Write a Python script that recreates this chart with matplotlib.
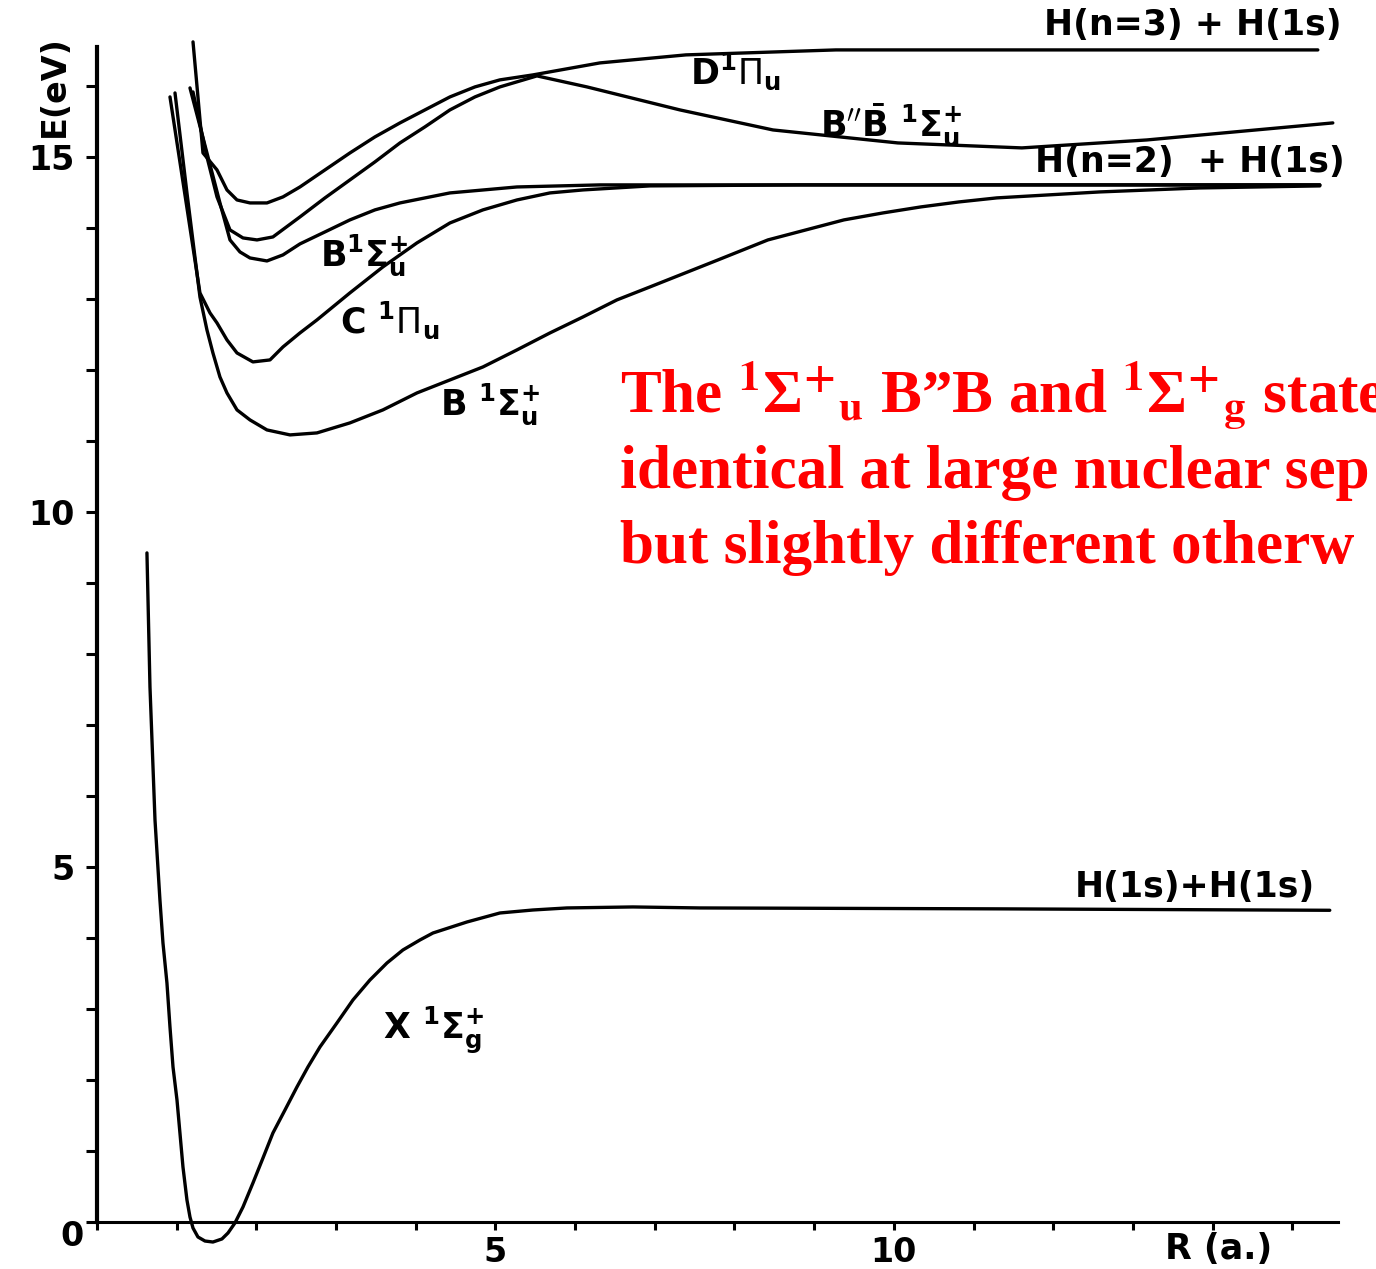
import matplotlib
matplotlib.use("Agg")
import matplotlib.pyplot as plt
import numpy as np

# potential curves of H2 (R in a0, E in eV)
x_state_r = [0.627, 0.665, 0.728, 0.790, 0.828, 0.878, 0.916, 0.954, 1.004, 1.041, 1.079, 1.129,
             1.167, 1.205, 1.267, 1.355, 1.455, 1.568, 1.644, 1.731, 1.832, 1.957, 2.083, 2.208,
             2.359, 2.509, 2.647, 2.798, 3.011, 3.212, 3.425, 3.639, 3.839, 4.053, 4.216, 4.642,
             5.056, 5.470, 5.897, 6.725, 7.566, 11.33, 15.47]
x_state_e = [9.423, 7.535, 5.662, 4.535, 3.930, 3.366, 2.746, 2.183, 1.718, 1.254, 0.775, 0.310,
             0.070, -0.085, -0.211, -0.268, -0.282, -0.239, -0.155, -0.014, 0.211, 0.549, 0.901, 1.254,
             1.577, 1.901, 2.183, 2.465, 2.803, 3.127, 3.408, 3.648, 3.831, 3.972, 4.070, 4.225,
             4.352, 4.394, 4.423, 4.437, 4.423, 4.41, 4.39]

b_state_r = [0.979, 1.129, 1.292, 1.380, 1.455, 1.543, 1.631, 1.757, 1.920, 2.133, 2.422, 2.760,
             3.174, 3.588, 4.015, 4.429, 4.843, 5.270, 5.684, 6.098, 6.524, 6.939, 7.792, 8.419,
             8.896, 9.373, 9.862, 10.339, 10.816, 11.292, 12.585, 13.840, 15.345]
b_state_e = [15.901, 14.493, 13.028, 12.563, 12.239, 11.901, 11.676, 11.437, 11.296, 11.155, 11.085, 11.113,
             11.254, 11.437, 11.676, 11.859, 12.042, 12.282, 12.521, 12.746, 12.986, 13.169, 13.549, 13.831,
             13.972, 14.113, 14.211, 14.296, 14.366, 14.423, 14.507, 14.563, 14.592]

c_state_r = [0.916, 1.104, 1.292, 1.418, 1.506, 1.631, 1.757, 1.957, 2.171, 2.334, 2.547, 2.760,
             3.174, 3.588, 4.015, 4.429, 4.843, 5.270, 5.684, 6.098, 6.939, 8.82, 15.345]
c_state_e = [15.845, 14.465, 13.085, 12.803, 12.662, 12.423, 12.239, 12.113, 12.141, 12.324, 12.521, 12.704,
             13.085, 13.451, 13.789, 14.070, 14.254, 14.394, 14.493, 14.535, 14.592, 14.606, 14.606]

bp_state_r = [1.167, 1.393, 1.543, 1.669, 1.794, 1.920, 2.133, 2.334, 2.547, 2.861, 3.174, 3.488,
              3.802, 4.429, 5.270, 6.311, 15.345]
bp_state_e = [15.972, 15.000, 14.352, 13.831, 13.662, 13.577, 13.535, 13.620, 13.775, 13.944, 14.113, 14.254,
              14.352, 14.493, 14.577, 14.606, 14.606]

bpp_state_r = [1.205, 1.380, 1.506, 1.669, 1.832, 2.008, 2.208, 2.547, 2.861, 3.174, 3.488, 3.802,
               4.115, 4.429, 4.743, 5.056, 5.521, 6.148, 7.315, 8.482, 10.050, 11.606, 13.174, 15.508]
bpp_state_e = [15.915, 15.000, 14.437, 13.972, 13.859, 13.831, 13.873, 14.155, 14.423, 14.676, 14.930, 15.197,
               15.423, 15.662, 15.845, 15.986, 16.141, 15.986, 15.662, 15.380, 15.197, 15.127, 15.239, 15.479]

d_state_r = [1.205, 1.267, 1.330, 1.506, 1.631, 1.757, 1.920, 2.133, 2.334, 2.547, 2.861, 3.174,
             3.488, 3.802, 4.115, 4.429, 4.743, 5.056, 5.470, 6.311, 7.390, 9.272, 15.320]
d_state_e = [16.620, 15.845, 15.056, 14.817, 14.535, 14.394, 14.352, 14.352, 14.437, 14.577, 14.817, 15.056,
             15.282, 15.479, 15.662, 15.845, 15.986, 16.085, 16.155, 16.324, 16.437, 16.507, 16.507]

y_major = [0, 5, 10, 15]
y_major_labels = ["", "5", "10", "15"]
x_major = [0, 5, 10]
x_major_labels = ["", "5", "10"]

curves = [
    (x_state_r, x_state_e),
    (b_state_r, b_state_e),
    (c_state_r, c_state_e),
    (bp_state_r, bp_state_e),
    (bpp_state_r, bpp_state_e),
    (d_state_r, d_state_e),
]

fig = plt.figure(figsize=(13.76, 12.69), dpi=100)
ax = fig.add_axes([0, 0, 1, 1])
ax.set_xlim(-1.217, 16.05)
ax.set_ylim(-0.662, 17.21)

for r, e in curves:
    ax.plot(r, e, color="black", lw=2.4, solid_capstyle="round", solid_joinstyle="round")

for name in ["top", "right"]:
    ax.spines[name].set_visible(False)
ax.spines["left"].set_position(("data", 0))
ax.spines["bottom"].set_position(("data", 0))
ax.spines["left"].set_bounds(0, 16.55)
ax.spines["bottom"].set_bounds(0, 15.57)
ax.spines["left"].set_linewidth(3.0)
ax.spines["bottom"].set_linewidth(2.2)

ax.set_yticks(y_major, y_major_labels)
ax.set_yticks(np.arange(0, 17), minor=True)
ax.set_xticks(x_major, x_major_labels)
ax.set_xticks(np.arange(0, 16), minor=True)
ax.tick_params(axis="y", which="both", direction="out", length=8, width=2.2, pad=8,
               labelsize=24)
ax.tick_params(axis="x", which="both", direction="out", length=6, width=2.2, pad=4,
               labelsize=24)
for lab in ax.get_xticklabels() + ax.get_yticklabels():
    lab.set_fontweight("bold")

lab_kw = dict(color="black", fontsize=25, fontweight="bold", family="DejaVu Sans",
              math_fontfamily="dejavusans", va="center", ha="left")
ax.text(-0.31, -0.21, "0", ha="center", va="center", fontsize=24, fontweight="bold")
ax.text(-0.53, 16.0, "E(eV)", rotation=90, ha="center", va="center", fontsize=24,
        fontweight="bold")
ax.text(13.40, -0.38, "R (a.)", **lab_kw)
ax.text(11.89, 16.86, "H(n=3) + H(1s)", **lab_kw)
ax.text(11.77, 14.93, "H(n=2)  + H(1s)", **lab_kw)
ax.text(12.27, 4.72, "H(1s)+H(1s)", **lab_kw)
ax.text(7.44, 16.20, r"D$^{\mathbf{1}}\mathit{\Pi}_{\mathbf{u}}$", **lab_kw)
ax.text(9.07, 15.45, r"B$^{\prime\prime}\mathbf{\bar{B}}$ $^{\mathbf{1}}\mathbf{\Sigma}_{\mathbf{u}}^{\mathbf{+}}$", **lab_kw)
ax.text(2.80, 13.62, r"B$^{\mathbf{1}}\mathbf{\Sigma}_{\mathbf{u}}^{\mathbf{+}}$", **lab_kw)
ax.text(3.05, 12.70, r"C $^{\mathbf{1}}\mathit{\Pi}_{\mathbf{u}}$", **lab_kw)
ax.text(4.30, 11.51, r"B $^{\mathbf{1}}\mathbf{\Sigma}_{\mathbf{u}}^{\mathbf{+}}$", **lab_kw)
ax.text(3.59, 2.70, r"X $^{\mathbf{1}}\mathbf{\Sigma}_{\mathbf{g}}^{\mathbf{+}}$", **lab_kw)

red_kw = dict(color="#ff0000", fontsize=44, fontweight="bold", family="Liberation Serif",
              math_fontfamily="stix", va="baseline", ha="left")
line1 = ("The $^{\\mathbf{1}}$\u03a3$^{\\mathbf{+}}{}_{\\mathbf{u}}$ B\u201dB and "
         "$^{\\mathbf{1}}$\u03a3$^{\\mathbf{+}}{}_{\\mathbf{g}}$ states")
ax.text(6.56, 11.41, line1, **red_kw)
ax.text(6.56, 10.34, "identical at large nuclear sep", **red_kw)
ax.text(6.56, 9.28, "but slightly different otherw", **red_kw)

fig.savefig("out.png", dpi=100)
